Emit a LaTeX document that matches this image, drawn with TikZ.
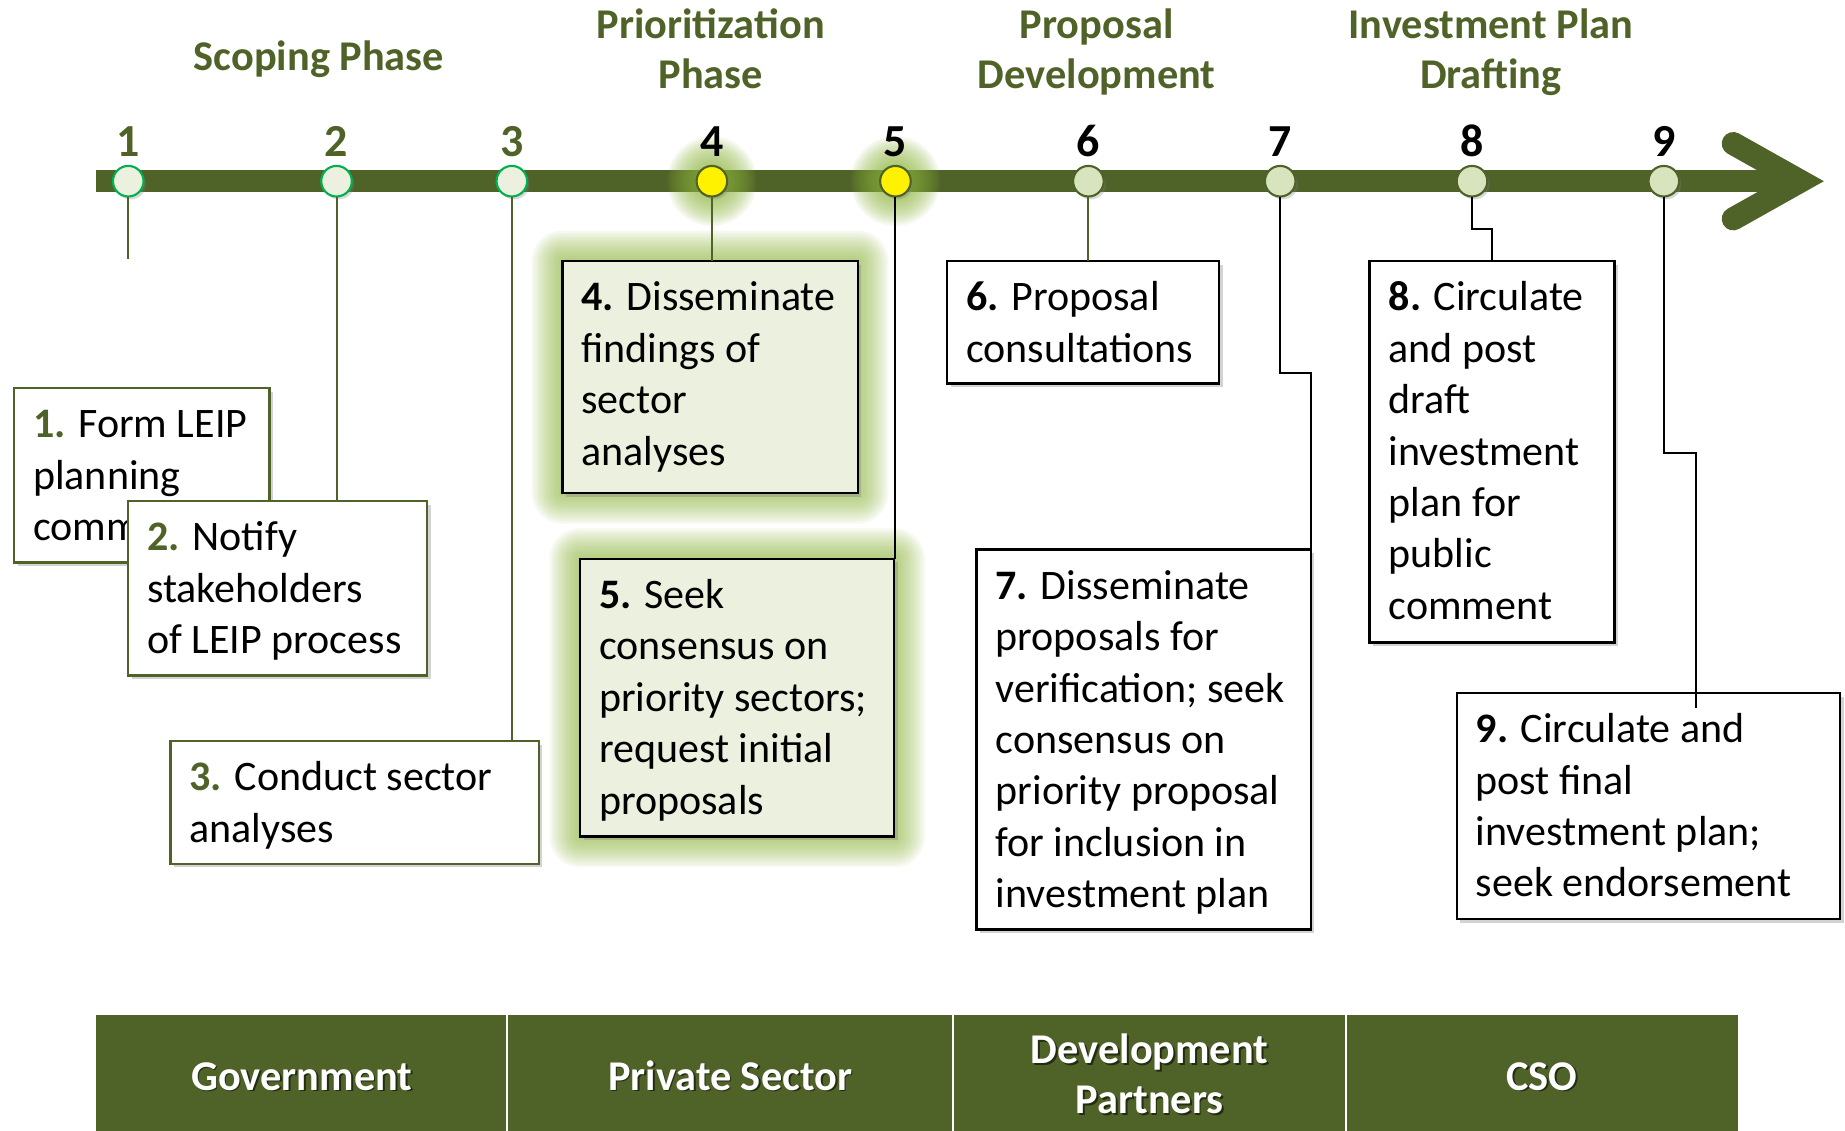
\documentclass[tikz,border=0pt]{standalone}
\usepackage{fontspec}
\setmainfont{Carlito}
\usetikzlibrary{calc,shadows,backgrounds}
\definecolor{oliv}{HTML}{4F6228}
\definecolor{paleg}{HTML}{EBF1DE}
\definecolor{circg}{HTML}{D7E4BD}
\definecolor{brightg}{HTML}{00B050}
\definecolor{glowc}{HTML}{8DB43E}
\newcommand\tst{\rule{0pt}{28pt}}
\begin{document}
\begin{tikzpicture}[x=1pt,y=-1pt,
  txt/.style={anchor=north west, inner sep=0, align=left, font=\fontsize{35.7}{43.7}\selectfont},
  boxbase/.style={rectangle, inner sep=0, outer sep=0, line width=2pt, drop shadow={shadow xshift=3pt,shadow yshift=-3pt,opacity=0.35}},
  boxo/.style={boxbase, draw=oliv, fill=white},
  boxg/.style={boxbase, draw=black, fill=paleg},
  boxk/.style={boxbase, draw=black, fill=white},
  circbase/.style={circle, inner sep=0, outer sep=0, minimum size=26pt, line width=1.8pt, drop shadow={shadow xshift=2pt,shadow yshift=-2.5pt,opacity=0.3}},
  circa/.style={circbase, draw=brightg, fill=paleg},
  circy/.style={circbase, draw=oliv, fill=yellow},
  circc/.style={circbase, draw=oliv, fill=circg},
  num/.style={anchor=base, inner sep=0, font=\fontsize{39}{44}\selectfont\bfseries},
  phase/.style={anchor=north, inner sep=0, align=center, text=oliv, font=\fontsize{36}{42.4}\selectfont\bfseries},
  connO/.style={draw=oliv, line width=1.7pt},
  connK/.style={draw=black, line width=1.7pt},
  cell/.style={rectangle, fill=oliv, inner sep=0, outer sep=0, minimum height=98.5pt},
  role/.style={inner sep=0, align=center, text=white, font=\fontsize{36}{42.4}\selectfont\bfseries},
  roleshadow/.style={role, text=black, opacity=0.55},
]
\useasboundingbox (0,0) rectangle (1568,961);

% timeline bar and chevron
\fill[oliv] (82,144.5) rectangle (1532,163.5);
\draw[oliv, line width=19.6pt, line cap=round, line join=miter] (1473,122) -- (1530,154) -- (1473,186);

% glow round circles 4 and 5
\foreach \p in {605,761} {
  \foreach \r in {14,16,...,38} {
    \fill[glowc, opacity=0.09] (\p,154) circle[radius=\r pt];
  }
}

% phase labels
\node[phase] (ph1) at (271,31.5) {\tst Scoping Phase};
\node[phase] (ph2) at (604,4.6) {\tst Prioritization\\Phase};
\node[phase] (ph3) at (932,4.6) {\tst Proposal\\Development};
\node[phase] (ph4) at (1267,4.6) {\tst Investment Plan\\Drafting};

% numbers
\node[num, text=oliv] (n1) at (109,132.6) {1};
\node[num, text=oliv] (n2) at (286,132.6) {2};
\node[num, text=oliv] (n3) at (435,132.6) {3};
\node[num, text=black] (n4) at (605,132.6) {4};
\node[num, text=black] (n5) at (761,132.6) {5};
\node[num, text=black] (n6) at (925,132.6) {6};
\node[num, text=black] (n7) at (1088,132.6) {7};
\node[num, text=black] (n8) at (1251,132.6) {8};
\node[num, text=black] (n9) at (1414,132.6) {9};

% circles
\node[circa] (c1) at (109,154) {};
\node[circa] (c2) at (286,154) {};
\node[circa] (c3) at (435,154) {};
\node[circy] (c4) at (605,154) {};
\node[circy] (c5) at (761,154) {};
\node[circc] (c6) at (925,154) {};
\node[circc] (c7) at (1088,154) {};
\node[circc] (c8) at (1251,154) {};
\node[circc] (c9) at (1414,154) {};

% boxes
\node[boxo, minimum width=217pt, minimum height=148pt] (b1) at (120.5,404) {};
\node[txt] (t1) at ($(b1.north west)+(16,14)$) {\tst\textcolor{oliv}{\textbf{1.}} Form LEIP\\planning\\committee};
\node[boxo, minimum width=254pt, minimum height=148pt] (b2) at (236,500) {};
\node[txt] (t2) at ($(b2.north west)+(16,14)$) {\tst\textcolor{oliv}{\textbf{2.}} Notify\\stakeholders\\of LEIP process};
\node[boxo, minimum width=313pt, minimum height=104pt] (b3) at (301.5,682) {};
\node[txt] (t3) at ($(b3.north west)+(16,14)$) {\tst\textcolor{oliv}{\textbf{3.}} Conduct sector\\analyses};
\node[boxg, minimum width=251pt, minimum height=197pt] (b4) at (603.5,320.5) {};
\node[txt] (t4) at ($(b4.north west)+(16,14)$) {\tst\textbf{4.} Disseminate\\findings of\\sector\\analyses};
\node[boxg, minimum width=267pt, minimum height=236pt] (b5) at (626.5,593) {};
\node[txt] (t5) at ($(b5.north west)+(16,14)$) {\tst\textbf{5.} Seek\\consensus on\\priority sectors;\\request initial\\proposals};
\node[boxk, minimum width=231pt, minimum height=104pt] (b6) at (920.5,274) {};
\node[txt] (t6) at ($(b6.north west)+(16,14)$) {\tst\textbf{6.} Proposal\\consultations};
\node[boxk, minimum width=284pt, minimum height=323pt] (b7) at (972,628.5) {};
\node[txt] (t7) at ($(b7.north west)+(16,14)$) {\tst\textbf{7.} Disseminate\\proposals for\\verification; seek\\consensus on\\priority proposal\\for inclusion in\\investment plan};
\node[boxk, minimum width=208pt, minimum height=324pt] (b8) at (1268,384) {};
\node[txt] (t8) at ($(b8.north west)+(16,14)$) {\tst\textbf{8.} Circulate\\and post\\draft\\investment\\plan for\\public\\comment};
\node[boxk, minimum width=326pt, minimum height=192pt] (b9) at (1401,685) {};
\node[txt] (t9) at ($(b9.north west)+(16,14)$) {\tst\textbf{9.} Circulate and\\post final\\investment plan;\\seek endorsement};

% glow round boxes 4 and 5
\begin{pgfonlayer}{background}
\foreach \b in {b4,b5} {
  \foreach \d in {2,4,...,26} {
    \fill[glowc, opacity=0.075, rounded corners=\d pt] ($(\b.south west)+(-\d,\d)$) rectangle ($(\b.north east)+(\d,-\d)$);
  }
}
\end{pgfonlayer}

% connectors
\coordinate (e1) at (109,220);
\draw[connO] (c1.south) -- (e1);
\draw[connO] (c2.south) -- (c2.south |- b2.north);
\draw[connO] (c3.south) -- (c3.south |- b3.north);
\draw[connO] (c4.south) -- (c4.south |- b4.north);
\draw[connK] (c5.south) -- (c5.south |- b5.north);
\draw[connO] (c6.south) -- (c6.south |- b6.north);
\draw[connK] (c7.south) |- ($(b7.north east)+(0,-150)$) -- (b7.north east);
\draw[connK] (c8.south) |- ($(b8.north)+(0,-27)$) -- (b8.north);
\coordinate (e9) at ($(b9.north)+(40,13)$);
\draw[connK] (c9.south) |- ($(b9.north)+(40,-204)$) -- (e9);

% role bar
\node[cell, minimum width=349pt] (g1) at (256.5,911.75) {};
\node[cell, minimum width=379pt] (g2) at (620.5,911.75) {};
\node[cell, minimum width=334pt] (g3) at (977,911.75) {};
\node[cell, minimum width=333pt] (g4) at (1310.5,911.75) {};
\draw[white, line width=2pt] (g1.north east) -- (g1.south east);
\draw[white, line width=2pt] (g2.north east) -- (g2.south east);
\draw[white, line width=2pt] (g3.north east) -- (g3.south east);

\node[roleshadow, anchor=base] (rs1) at (258,928) {Government};
\node[role, anchor=base] (r1) at (256.5,926.5) {Government};
\node[roleshadow, anchor=base] (rs2) at (622,928) {Private Sector};
\node[role, anchor=base] (r2) at (620.5,926.5) {Private Sector};
\node[roleshadow, anchor=north] (rs3) at (978.5,877.2) {\tst Development\\Partners};
\node[role, anchor=north] (r3) at (977,875.7) {\tst Development\\Partners};
\node[roleshadow, anchor=base] (rs4) at (1312,928) {CSO};
\node[role, anchor=base] (r4) at (1310.5,926.5) {CSO};
\end{tikzpicture}
\end{document}
